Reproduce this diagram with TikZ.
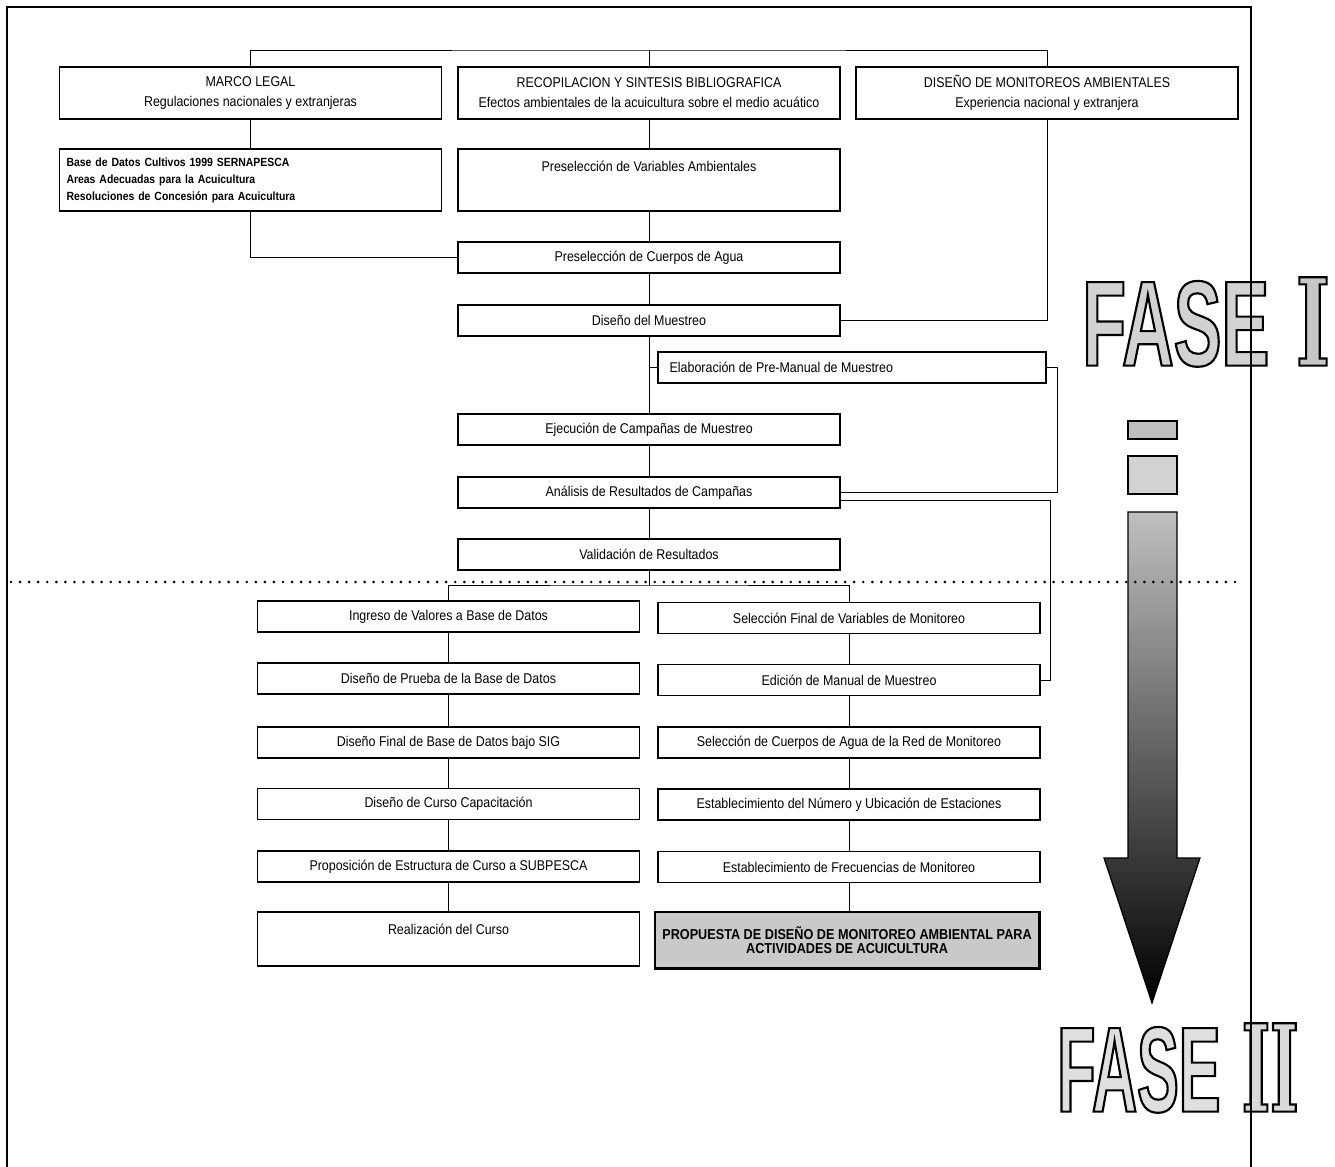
\documentclass[tikz,border=0pt]{standalone}
\usepackage{fontspec}
\setmainfont{Liberation Sans}[FakeStretch=0.88]
\newfontfamily\faseA{Liberation Sans}[FakeStretch=0.59]
\newfontfamily\faseB{Liberation Sans}[FakeStretch=0.515]
\newfontfamily\faseS{DejaVu Serif}[FakeStretch=0.6]
\newfontfamily\faseT{DejaVu Serif}[FakeStretch=0.5]
\newcommand{\outltext}[2]{{\color{#1}\special{pdf:literal direct 0 0 0 RG 1.6 w 2 Tr}#2\special{pdf:literal direct 0 Tr}}}
\begin{document}
\begin{tikzpicture}[x=0.75pt,y=-0.75pt,
  box/.style={draw, line width=0.9pt, minimum height=23.25pt, inner sep=0pt, font=\fontsize{10.6}{15}\selectfont},
  wbox/.style={box, minimum width=286.5pt},
  conn/.style={line width=0.75pt},
  txt/.style={inner sep=0pt, font=\fontsize{10.6}{15}\selectfont},
  fase/.style={inner sep=0pt, anchor=west, font=\bfseries\fontsize{91}{91}\selectfont}]
\useasboundingbox (0,0) rectangle (1335,1167);

% ---------- FASE labels ----------
\node[fase] (fase1) at (1082,322) {\outltext{gray!35}{\faseA FASE}\hspace{20pt}\outltext{gray!45}{\faseS I}};
\node[fase] (fase2) at (1057,1068) {\outltext{gray!25}{\faseB FASE}\hspace{16pt}\outltext{gray!30}{\faseT II}};

% ---------- big arrow ----------
\draw[line width=0.9pt, fill=gray!50] (1128,421) rectangle (1177,439);
\draw[line width=0.9pt, fill=gray!35] (1128,456) rectangle (1177,494);
\shade[top color=gray!50, middle color=gray!65, bottom color=black, draw=black, line width=0.9pt]
  (1128,512) -- (1177,512) -- (1177,858) -- (1200,858) -- (1152,1003) -- (1104,858) -- (1128,858) -- cycle;

% ---------- top row ----------
\node[wbox, minimum height=39pt, align=center] (marco) at (250.5,93) {MARCO LEGAL\\Regulaciones nacionales y extranjeras};
\node[wbox, minimum height=39pt, align=center] (recop) at (649,93) {RECOPILACION Y SINTESIS BIBLIOGRAFICA\\Efectos ambientales de la acuicultura sobre el medio acuático};
\node[wbox, minimum height=39pt, align=center] (dismon) at (1047,93) {DISEÑO DE MONITOREOS AMBIENTALES\\Experiencia nacional y extranjera};

\node[wbox, minimum height=46.5pt, align=left, text width=276pt, font=\bfseries\fontsize{8.9}{12.75}\selectfont] (base) at (250.5,180)
  {Base de Datos Cultivos 1999 SERNAPESCA\\Areas Adecuadas para la Acuicultura\\Resoluciones de Concesión para Acuicultura};
\node[wbox, minimum height=46.5pt] (prevar) at (649,180) {};
\node[txt, anchor=north] (prevart) at ([yshift=-9pt]prevar.north) {Preselección de Variables Ambientales};

\node[wbox] (cuerpos) at (649,257.5) {Preselección de Cuerpos de Agua};
\node[wbox] (dismu) at (649,320.5) {Diseño del Muestreo};
\node[box, minimum width=291pt] (elab) at (852,367.5) {};
\node[txt, anchor=west] (elabt) at ([xshift=9pt]elab.west) {Elaboración de Pre-Manual de Muestreo};
\node[wbox] (ejec) at (649,429.5) {Ejecución de Campañas de Muestreo};
\node[wbox] (anal) at (649,492.5) {Análisis de Resultados de Campañas};
\node[wbox] (valid) at (649,554.5) {Validación de Resultados};

% ---------- lower columns ----------
\node[wbox] (ingreso) at (448.5,616.5) {Ingreso de Valores a Base de Datos};
\node[wbox] (prueba) at (448.5,678.5) {Diseño de Prueba de la Base de Datos};
\node[wbox] (difinal) at (448.5,742.5) {Diseño Final de Base de Datos bajo SIG};
\node[wbox] (curso) at (448.5,804) {Diseño de Curso Capacitación};
\node[wbox] (propos) at (448.5,866.5) {Proposición de Estructura de Curso a SUBPESCA};
\node[wbox, minimum height=40.5pt] (realiz) at (448.5,939) {};
\node[txt, anchor=north] (realizt) at ([yshift=-9pt]realiz.north) {Realización del Curso};

\node[wbox] (selfin) at (849,618) {Selección Final de Variables de Monitoreo};
\node[wbox] (edicion) at (849,680) {Edición de Manual de Muestreo};
\node[wbox] (selcuer) at (849,742.5) {Selección de Cuerpos de Agua de la Red de Monitoreo};
\node[wbox] (estnum) at (849,804.5) {Establecimiento del Número y Ubicación de Estaciones};
\node[wbox] (estfrec) at (849,867) {Establecimiento de Frecuencias de Monitoreo};
\node[box, minimum width=288pt, minimum height=42pt, fill=gray!42, align=center,
      font=\bfseries\fontsize{10.8}{10}\selectfont] (prop) at (847,940)
  {PROPUESTA DE DISEÑO DE MONITOREO AMBIENTAL PARA\\ACTIVIDADES DE ACUICULTURA};
\draw[line width=2pt] (prop.south west) -- (prop.south east) -- (prop.north east);

% ---------- connectors ----------
\coordinate (bus) at (649,50);
\draw[conn] (marco.north) |- (bus) -| (dismon.north);
\draw[conn] (recop.north) -- (bus);
\draw[conn] (marco.south) -- (base.north);
\draw[conn] (recop.south) -- (prevar.north);
\draw[conn] (base.south) |- (cuerpos.west);
\draw[conn] (prevar.south) -- (cuerpos.north);
\draw[conn] (cuerpos.south) -- (dismu.north);
\draw[conn] (dismon.south) |- (dismu.east);
\draw[conn] (dismu.south) -- (ejec.north);
\draw[conn] (dismu.south |- elab.west) -- (elab.west);
\draw[conn] (ejec.south) -- (anal.north);
\draw[conn] (elab.east) -- ++(11,0) |- (anal.east);
\draw[conn] ([yshift=-6pt]anal.east) -- ++(210,0) |- (edicion.east);
\draw[conn] (anal.south) -- (valid.north);
\coordinate (vbus) at (649,585);
\draw[conn] (valid.south) -- (vbus);
\draw[conn] (ingreso.north) |- (vbus) -| (selfin.north);
\draw[conn] (ingreso.south) -- (prueba.north);
\draw[conn] (prueba.south) -- (difinal.north);
\draw[conn] (difinal.south) -- (curso.north);
\draw[conn] (curso.south) -- (propos.north);
\draw[conn] (propos.south) -- (realiz.north);
\draw[conn] (selfin.south) -- (edicion.north);
\draw[conn] (edicion.south) -- (selcuer.north);
\draw[conn] (selcuer.south) -- (estnum.north);
\draw[conn] (estnum.south) -- (estfrec.north);
\draw[conn] (estfrec.south) -- (estfrec.south |- prop.north);

% ---------- phase separator and frame ----------
\draw[line width=2.2pt, line cap=round, dash pattern=on 0pt off 6.8pt] (11,582) -- (1243,582);
\draw[line width=2pt] (7,1167) -- (7,7) -- (1251,7) -- (1251,1167);
\end{tikzpicture}
\end{document}
